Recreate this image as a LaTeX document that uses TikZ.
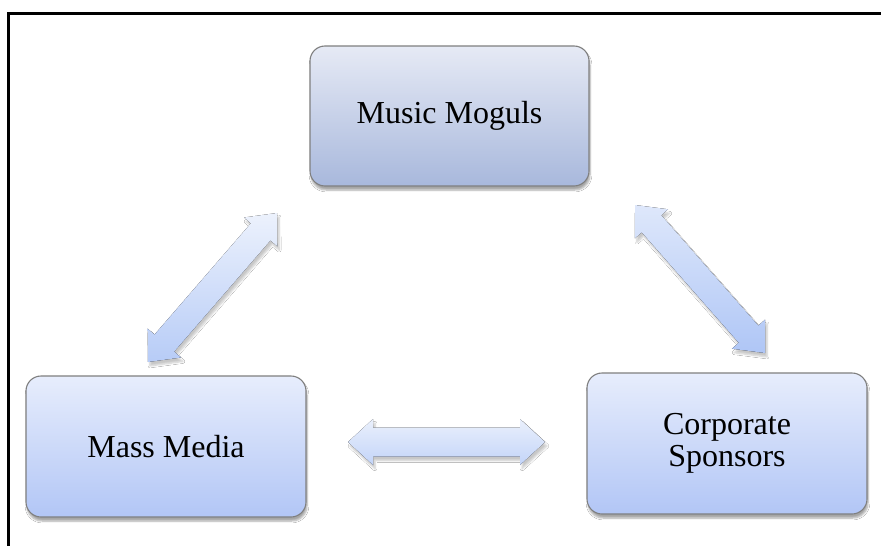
\documentclass[tikz,border=0pt]{standalone}
\usepackage{fontspec}
\setmainfont{Liberation Serif}
\usetikzlibrary{calc,shadows,shadows.blur}

\definecolor{frameblack}{HTML}{000000}
\definecolor{boxedge}{HTML}{7F7F7F}
\definecolor{mmtop}{HTML}{E6EAF5}
\definecolor{mmbot}{HTML}{A8B8DC}
\definecolor{bxtop}{HTML}{E7EDFC}
\definecolor{bxbot}{HTML}{B2C6F6}
\definecolor{artop}{HTML}{EAF0FC}
\definecolor{arbot}{HTML}{AFC6F6}

% double-headed block arrow between two named points
% #1,#2 tips, #3 head length, #4 half head width, #5 half shaft width, #6 style
\newcommand{\blockarrow}[6]{%
  \path ($(#1)!#3!(#2)$) coordinate (ha) ($(#2)!#3!(#1)$) coordinate (hb);
  \fill[#6] (#1)
    -- ($(ha)!#4!90:(#1)$) -- ($(ha)!#5!90:(#1)$)
    -- ($(hb)!#5!-90:(#2)$) -- ($(hb)!#4!-90:(#2)$)
    -- (#2)
    -- ($(hb)!#4!90:(#2)$) -- ($(hb)!#5!90:(#2)$)
    -- ($(ha)!#5!-90:(#1)$) -- ($(ha)!#4!-90:(#1)$)
    -- cycle;
}

\begin{document}
\begin{tikzpicture}[x=1pt,y=-1pt,
  entity/.style={draw=boxedge, line width=1.1pt, rounded corners=15pt,
    minimum width=279pt, minimum height=140pt, align=center,
    font=\fontsize{32}{32.5}\selectfont,
    blur shadow={shadow xshift=1pt, shadow yshift=-4pt, shadow blur steps=6, shadow opacity=35}},
  toptone/.style={top color=mmtop, bottom color=mmbot},
  lowtone/.style={top color=bxtop, bottom color=bxbot},
  link/.style={top color=artop, bottom color=arbot,
    blur shadow={shadow xshift=2pt, shadow yshift=-4pt, shadow blur steps=6, shadow opacity=22}}
]
\useasboundingbox (0,0) rectangle (881,546);
\fill[white] (0,0) rectangle (881,546);

% outer frame (left and top edges)
\draw[frameblack, line width=3pt] (8.5,546) -- (8.5,13.5) -- (881,13.5);

% the three parties
\node[entity, toptone] (moguls) at (449.5,116) {Music Moguls};
\node[entity, lowtone, minimum width=280pt, minimum height=141pt] (media) at (166,446.5) {Mass Media};
\node[entity, lowtone, minimum width=280pt, minimum height=141pt] (sponsors) at (727,443.5) {Corporate\\Sponsors};

% arrow tips
\coordinate (lt) at (277,213);
\coordinate (lb) at (148,362);
\coordinate (rt) at (635,205);
\coordinate (rb) at (765,353);
\coordinate (hl) at (348,442);
\coordinate (hr) at (545,442);

% two-way relations
\blockarrow{lt}{lb}{25pt}{22pt}{13pt}{link, top color=artop!90!white, bottom color=arbot!90!white}
\blockarrow{rt}{rb}{25pt}{22pt}{13pt}{link, top color=artop!80!arbot}
\blockarrow{hl}{hr}{25pt}{23pt}{14.5pt}{link, top color=artop, bottom color=arbot!75!white}
\end{tikzpicture}
\end{document}
